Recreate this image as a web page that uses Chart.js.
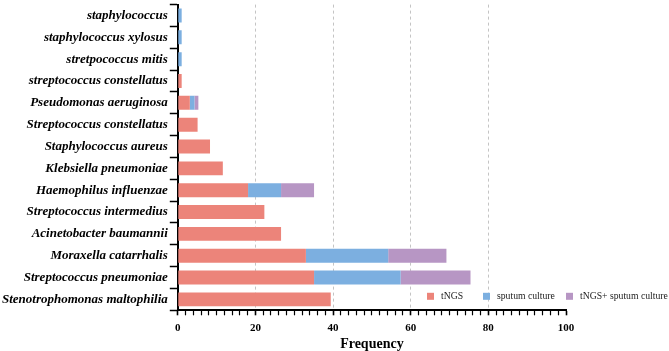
<!DOCTYPE html>
<html>
<head>
<meta charset="utf-8">
<script src="https://cdn.jsdelivr.net/npm/chart.js@4/dist/chart.umd.min.js"></script>
<style>
  body { margin: 0; background: #fff; }
  #caja { width: 669px; height: 351px; position: relative; }
</style>
</head>
<body>
<div id="caja"><canvas id="myChart01"></canvas></div>
<script>
var etiquetas = ['staphylococcus', 'staphylococcus xylosus', 'stretpococcus mitis', 'streptococcus constellatus',
    'Pseudomonas aeruginosa', 'Streptococcus constellatus', 'Staphylococcus aureus', 'Klebsiella pneumoniae',
    'Haemophilus influenzae', 'Streptococcus intermedius', 'Acinetobacter baumannii', 'Moraxella catarrhalis',
    'Streptococcus pneumoniae', 'Stenotrophomonas maltophilia'];
var series = ['tNGS', 'sputum culture', 'tNGS+ sputum culture'];
var datos_tngs = [0, 0, 0, 1.0, 3.1, 5.1, 8.3, 11.6, 18.1, 22.3, 26.6, 33.0, 35.1, 39.4];
var datos_esputo = [1.0, 1.0, 1.0, 0, 1.2, 0, 0, 0, 8.5, 0, 0, 21.2, 22.3, 0];
var datos_ambos = [0, 0, 0, 0, 1.0, 0, 0, 0, 8.5, 0, 0, 15.0, 18.0, 0];
var marcas_x = [0, 20, 40, 60, 80, 100];

var colores = ['rgb(236,132,122)', 'rgb(124,175,224)', 'rgb(183,150,196)'];
var fuente = '"Liberation Serif", "Times New Roman", serif';

// leyenda dibujada dentro del area del grafico, abajo a la derecha
var leyendaDentro = {
    id: 'leyendaDentro',
    afterDraw: function (chart) {
        var ctx = chart.ctx;
        var area = chart.chartArea;
        var desde = [-139, -83, 0];   // posicion de cada cuadrito respecto al borde derecho
        var y = area.bottom - 14;
        ctx.save();
        ctx.font = '9.7px ' + fuente;
        ctx.textBaseline = 'middle';
        chart.data.datasets.forEach(function (ds, i) {
            var x = area.right + desde[i];
            ctx.fillStyle = ds.backgroundColor;
            ctx.fillRect(x, y - 3.5, 7, 7);
            ctx.fillStyle = '#222';
            ctx.fillText(ds.label, x + 14, y);
        });
        ctx.restore();
    }
};

var ctx = document.getElementById('myChart01');
var myChart1 = new Chart(ctx, {
    type: 'bar',
    data: {
        labels: etiquetas,
        datasets: [
            { label: series[0], data: datos_tngs, backgroundColor: colores[0] },
            { label: series[1], data: datos_esputo, backgroundColor: colores[1] },
            { label: series[2], data: datos_ambos, backgroundColor: colores[2] }
        ]
    },
    options: {
        indexAxis: 'y',
        responsive: true,
        maintainAspectRatio: false,
        animation: false,
        layout: { padding: { top: 3, right: 103, bottom: 0, left: 0 } },
        datasets: {
            bar: { barPercentage: 0.64, categoryPercentage: 1 }
        },
        plugins: {
            legend: { display: false },
            tooltip: { enabled: false }
        },
        scales: {
            x: {
                stacked: true,
                min: 0,
                max: 100,
                ticks: {
                    stepSize: 2,
                    autoSkip: false,
                    maxRotation: 0,
                    padding: 6,
                    color: '#000',
                    font: { family: fuente, weight: 'bold', size: 11 },
                    callback: function (v) {
                        return marcas_x.indexOf(v) >= 0 ? v : '';
                    }
                },
                grid: {
                    drawTicks: true,
                    tickLength: 5,
                    tickColor: '#000',
                    tickWidth: function (c) {
                        return c.tick && c.tick.value % 20 === 0 ? 1.6 : 1.2;
                    },
                    color: function (c) {
                        var v = c.tick ? c.tick.value : 0;
                        return (v % 20 === 0 && v > 0 && v < 100) ? '#c4c4c4' : 'rgba(0,0,0,0)';
                    },
                    lineWidth: 1
                },
                border: { display: true, color: '#000', width: 2, dash: [3, 3] },
                title: {
                    display: true,
                    text: 'Frequency',
                    color: '#000',
                    font: { family: fuente, weight: 'bold', size: 14, lineHeight: 0.5 },
                    padding: { top: 0, bottom: 3.5 }
                }
            },
            y: {
                stacked: true,
                ticks: {
                    color: '#000',
                    padding: 2,
                    autoSkip: false,
                    font: { family: fuente, weight: 'bold', style: 'italic', size: 13, lineHeight: 0.4 }
                },
                grid: {
                    drawOnChartArea: false,
                    drawTicks: true,
                    tickLength: 8,
                    tickColor: '#000',
                    tickWidth: 1.5
                },
                border: { display: true, color: '#000', width: 2 }
            }
        }
    },
    plugins: [leyendaDentro]
});
</script>
</body>
</html>
